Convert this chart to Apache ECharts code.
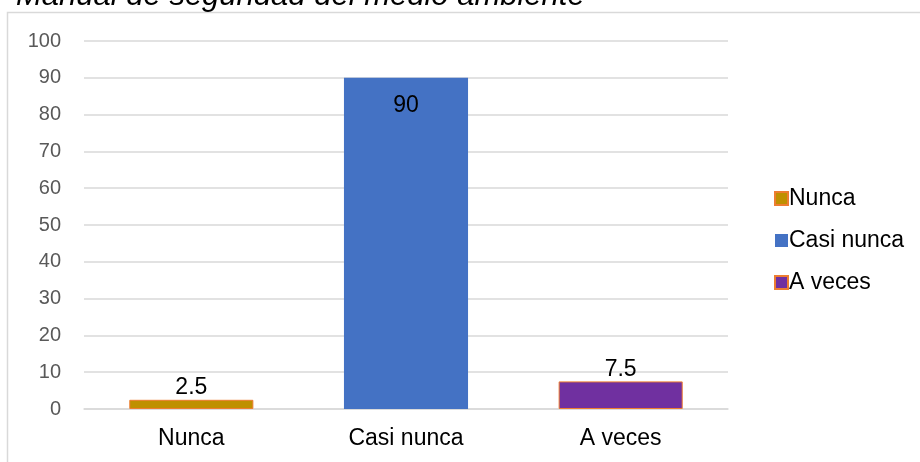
<!DOCTYPE html>
<html>
<head>
<meta charset="utf-8">
<script src="https://cdn.jsdelivr.net/npm/echarts@6/dist/echarts.min.js"></script>
<style>
  html, body { margin: 0; padding: 0; background: #ffffff; }
  #chart { width: 920px; height: 462px; }
</style>
</head>
<body>
<div id="chart"></div>
<script>
// Survey answers (percent)
const categories = ['Nunca', 'Casi nunca', 'A veces'];
const nuncaValues = [2.5, '-', '-'];
const casiNuncaValues = ['-', 90, '-'];
const aVecesValues = ['-', '-', 7.5];
const yTicks = [0, 10, 20, 30, 40, 50, 60, 70, 80, 90, 100];
const titleText = 'Manual de seguridad del medio ambiente';

const FONT = '"Liberation Sans", Arial, sans-serif';
const BORDER = '#ED7D31';

function barSeries(name, data, fill, border, labelPos, labelDist) {
  return {
    name: name,
    type: 'bar',
    stack: 'answers',
    data: data,
    barWidth: '57.8%',
    itemStyle: { color: fill, borderColor: border || fill, borderWidth: border ? 1 : 0 },
    label: {
      show: true,
      position: labelPos,
      distance: labelDist,
      color: '#000000',
      fontFamily: FONT,
      fontSize: 23
    }
  };
}

const chart = echarts.init(document.getElementById('chart'), null, { renderer: 'canvas' });
chart.setOption({
  animation: false,
  backgroundColor: '#ffffff',
  graphic: [
    {
      type: 'rect',
      shape: { x: 7.5, y: 12.5, width: 930, height: 470 },
      style: { fill: 'none', stroke: '#d9d9d9', lineWidth: 1.5 },
      silent: true
    },
    {
      type: 'text',
      left: 16,
      top: -19,
      style: {
        text: titleText,
        font: 'italic 31px "Liberation Sans", Arial, sans-serif',
        fill: '#000000'
      },
      silent: true
    }
  ],
  legend: {
    orient: 'vertical',
    left: 769,
    top: 182,
    itemWidth: 13,
    itemHeight: 13,
    itemGap: 19,
    icon: 'rect',
    textStyle: { color: '#000000', fontFamily: FONT, fontSize: 23, padding: [0, 0, 0, -4] },
    data: categories
  },
  grid: { left: 84, right: 192, top: 41, bottom: 53 },
  xAxis: {
    type: 'category',
    data: categories,
    axisLine: { lineStyle: { color: '#d9d9d9', width: 1.5 } },
    axisTick: { show: false },
    axisLabel: { color: '#000000', fontFamily: FONT, fontSize: 23, margin: 18 }
  },
  yAxis: {
    type: 'value',
    min: yTicks[0],
    max: yTicks[yTicks.length - 1],
    interval: yTicks[1] - yTicks[0],
    axisLine: { show: false },
    axisTick: { show: false },
    splitLine: { lineStyle: { color: '#d9d9d9', width: 1.5 } },
    axisLabel: { color: '#595959', fontFamily: FONT, fontSize: 20, margin: 23 }
  },
  series: [
    barSeries(categories[0], nuncaValues, '#BF9000', BORDER, 'top', 1),
    barSeries(categories[1], casiNuncaValues, '#4472C4', null, 'insideTop', 16),
    barSeries(categories[2], aVecesValues, '#7030A0', BORDER, 'top', 0)
  ]
});
</script>
</body>
</html>
